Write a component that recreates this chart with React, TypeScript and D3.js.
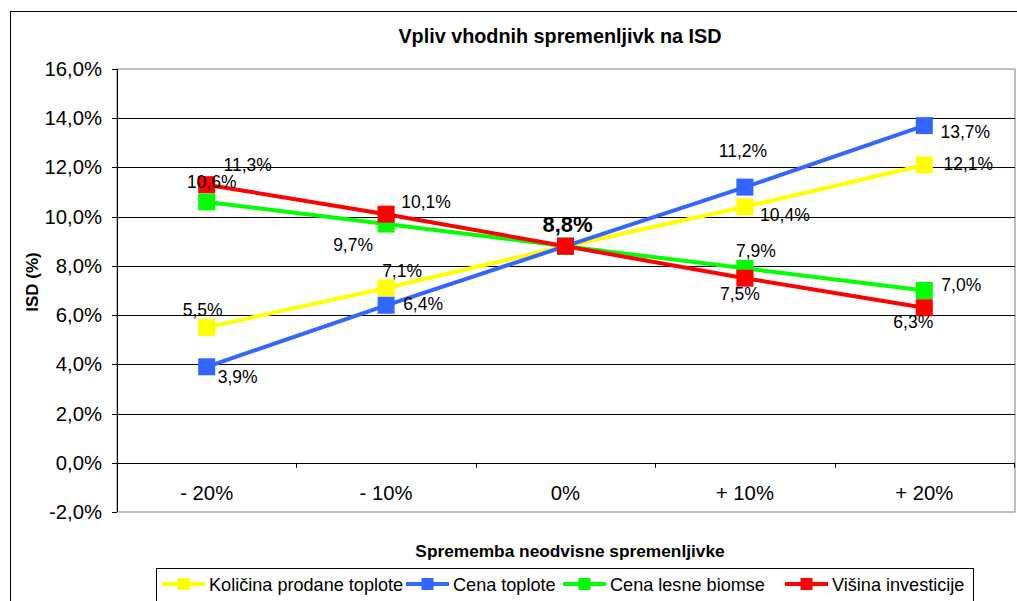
import * as React from "react";
import * as d3 from "d3";

const categories = ["- 20%", "- 10%", "0%", "+ 10%", "+ 20%"];
const seriesNames = ["Količina prodane toplote", "Cena toplote", "Cena lesne biomse", "Višina investicije"];
const kolicina = [5.5, 7.1, 8.8, 10.4, 12.1];
const cenaToplote = [3.9, 6.4, 8.8, 11.2, 13.7];
const cenaBiomse = [10.6, 9.7, 8.8, 7.9, 7.0];
const visinaInv = [11.3, 10.1, 8.8, 7.5, 6.3];
const yTicks = [-2, 0, 2, 4, 6, 8, 10, 12, 14, 16];

const colors = ["#ffff00", "#3366ff", "#00ff00", "#ff0000"];

// where each value label sits relative to its point (dx, dy), null = hidden
const labelOffsets = [
  [[-4, -11], [16, -11], null, [40, 14], [44, 5]],
  [[31, 16], [37, 5], null, [-2, -30], [41, 12]],
  [[5, -14], [-33, 27], null, [11, -11], [37, 0]],
  [[41, -14], [40, -6], [2, -14], [-5, 22], [-11, 20]],
];

const legendX = [162, 406, 563, 785];

const fmt = (v: number) => v.toFixed(1).replace(".", ",") + "%";

export default function App() {
  const width = 1017;
  const height = 601;
  const left = 117;
  const right = 1014;
  const top = 69;
  const bottom = 512;
  const font = "'Liberation Sans', Arial, sans-serif";

  const series = [kolicina, cenaToplote, cenaBiomse, visinaInv];

  const x = d3.scaleBand<string>().domain(categories).range([left, right]).padding(0);
  const y = d3.scaleLinear().domain([-2, 16]).range([bottom, top]);
  const cx = (c: string) => (x(c) as number) + x.bandwidth() / 2;

  const line = d3
    .line<number>()
    .x((d, i) => cx(categories[i]))
    .y(d => y(d));

  const ms = 17;

  return (
    <svg width={width} height={height} style={{ position: "absolute", left: 0, top: 0 }}>
      <rect x={0} y={0} width={width} height={height} fill="#fff" />
      <rect x={10.5} y={11.5} width={width + 10} height={height + 10} fill="none" stroke="#000" strokeWidth={1} />

      <text x={560} y={43} textAnchor="middle" fontFamily={font} fontWeight="bold" fontSize={19.8}>
        Vpliv vhodnih spremenljivk na ISD
      </text>

      <rect x={left} y={top} width={right - left + 1} height={bottom - top} fill="none" stroke="#808080" />

      {yTicks.map(t => (
        <g key={t}>
          {t > -2 && t < 16 && (
            <line x1={left} x2={right + 1} y1={Math.round(y(t)) + 0.5} y2={Math.round(y(t)) + 0.5} stroke="#000" />
          )}
          <line x1={left - 5} x2={left} y1={Math.round(y(t)) + 0.5} y2={Math.round(y(t)) + 0.5} stroke="#000" />
          <text x={102} y={y(t) + 7} textAnchor="end" fontFamily={font} fontSize={20.3} fill="#000">
            {fmt(t)}
          </text>
        </g>
      ))}
      <line x1={left + 0.5} x2={left + 0.5} y1={top} y2={bottom} stroke="#000" />

      {categories.map(c => (
        <g key={c}>
          <line
            x1={Math.round((x(c) as number) + x.bandwidth()) + 0.5}
            x2={Math.round((x(c) as number) + x.bandwidth()) + 0.5}
            y1={y(0)}
            y2={y(0) + 5}
            stroke="#000"
          />
          <text x={cx(c)} y={500} textAnchor="middle" fontFamily={font} fontSize={20.3}>
            {c}
          </text>
        </g>
      ))}

      {series.map((s, si) => (
        <g key={si}>
          <path d={line(s) || ""} fill="none" stroke={colors[si]} strokeWidth={4} />
          {s.map((v, i) => (
            <rect
              key={i}
              x={cx(categories[i]) - ms / 2}
              y={y(v) - ms / 2}
              width={ms}
              height={ms}
              fill={colors[si]}
            />
          ))}
        </g>
      ))}

      {series.map((s, si) =>
        s.map((v, i) => {
          const off = labelOffsets[si][i];
          if (!off) return null;
          const center = i === 2;
          return (
            <text
              key={si + "-" + i}
              x={cx(categories[i]) + off[0]}
              y={y(v) + off[1]}
              textAnchor="middle"
              fontFamily={font}
              fontSize={center ? 22 : 17.5}
              fontWeight={center ? "bold" : "normal"}
              fill="#000"
            >
              {fmt(v)}
            </text>
          );
        })
      )}

      <text
        transform={`translate(38,282) rotate(-90)`}
        textAnchor="middle"
        fontFamily={font}
        fontWeight="bold"
        fontSize={17}
      >
        ISD (%)
      </text>

      <text x={570} y={557} textAnchor="middle" fontFamily={font} fontWeight="bold" fontSize={17.3}>
        Sprememba neodvisne spremenljivke
      </text>

      <rect x={156.5} y={568.5} width={817} height={40} fill="#fff" stroke="#000" />
      {seriesNames.map((n, i) => (
        <g key={n} transform={`translate(${legendX[i]},584)`}>
          <line x1={0} x2={43} y1={0} y2={0} stroke={colors[i]} strokeWidth={4} />
          <rect x={15.5} y={-6} width={12} height={12} fill={colors[i]} />
          <text x={47} y={6.5} fontFamily={font} fontSize={18.1}>
            {n}
          </text>
        </g>
      ))}
    </svg>
  );
}
